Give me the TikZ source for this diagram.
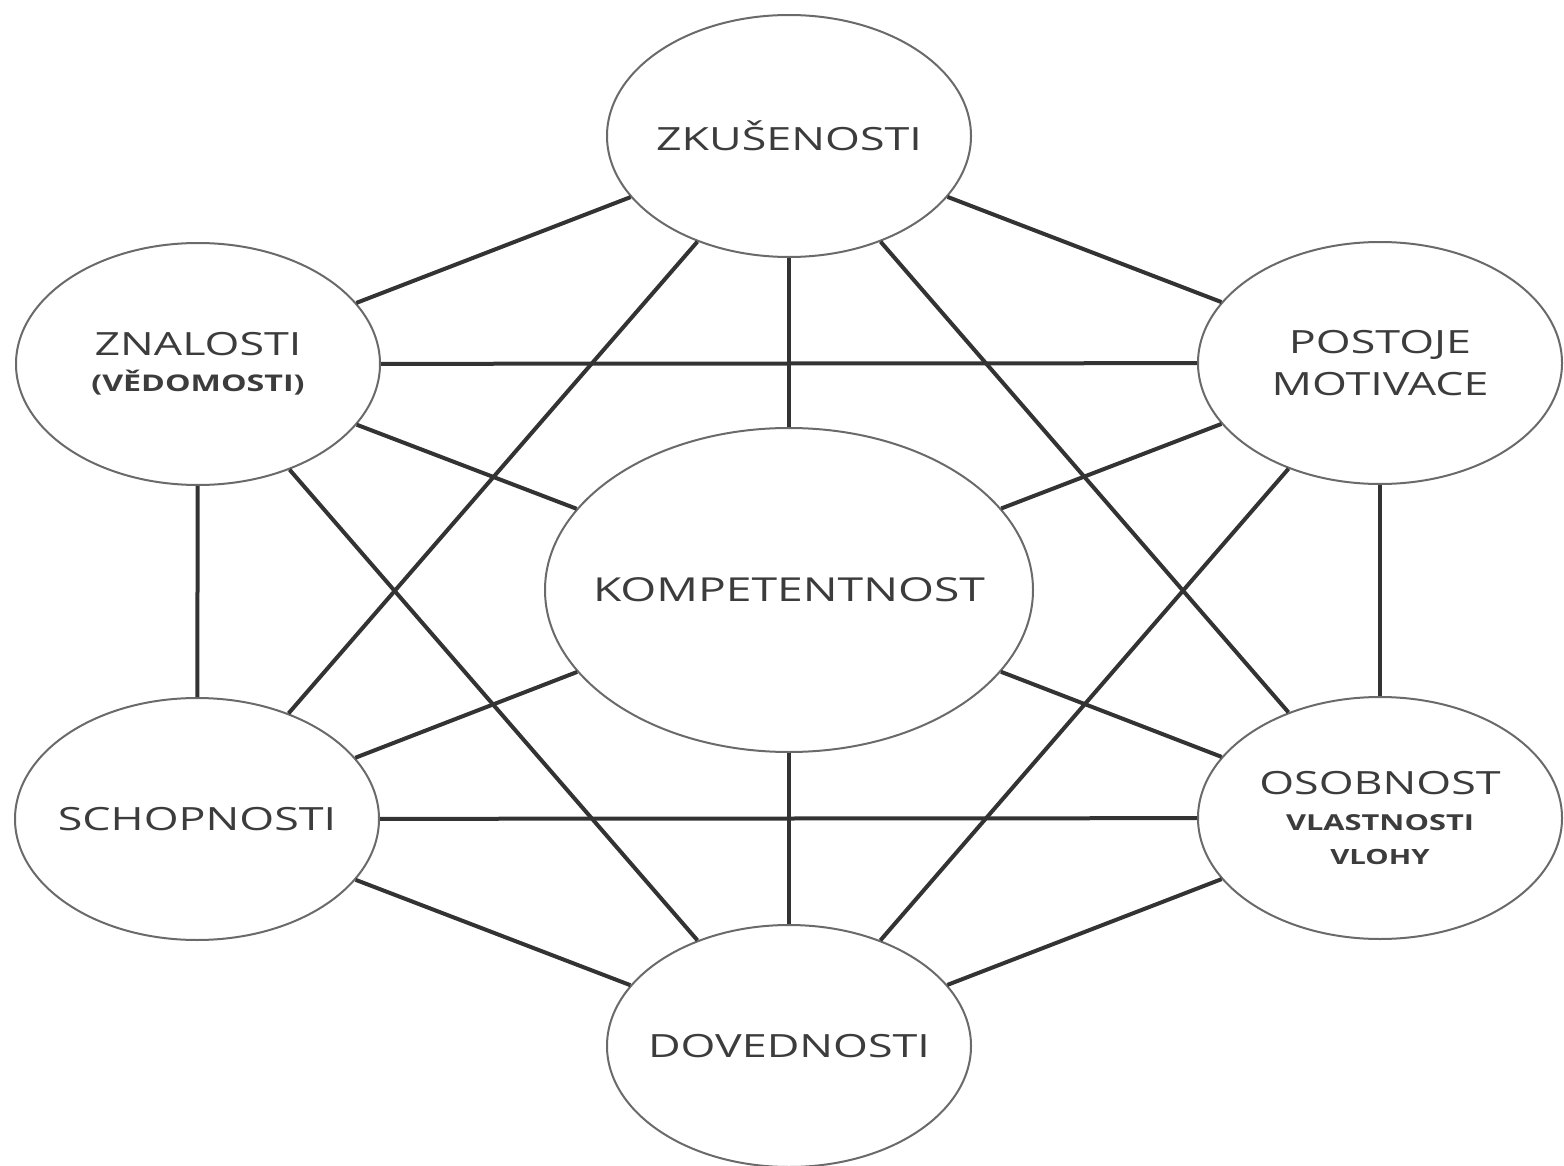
\documentclass[tikz,border=0pt]{standalone}
\usepackage{fontspec}
\setmainfont{Open Sans}[FakeStretch=1.4]
\usetikzlibrary{shapes.geometric}
\definecolor{txt}{HTML}{3C3C3C}
\definecolor{edge}{HTML}{333333}
\definecolor{rim}{HTML}{6A6A6A}
\tikzset{
  bubble/.style={ellipse, draw=rim, line width=1pt, fill=white,
    inner xsep=-120pt, inner ysep=-60pt,
    minimum width=182pt, minimum height=121pt, align=center, text=txt,
    font=\fontsize{16}{21}\selectfont},
  bigbubble/.style={bubble, minimum width=244pt, minimum height=162pt,
    font=\fontsize{16.5}{22}\selectfont},
  link/.style={draw=edge, line width=2pt}
}
\begin{document}
\begin{tikzpicture}[x=0.5pt,y=-0.5pt]
\useasboundingbox (0,0) rectangle (1564,1166);
\node[bubble] (zk) at (789,136) {ZKUŠENOSTI};
\node[bubble] (zn) at (198,364) {\fontsize{16}{21}\selectfont ZNALOSTI\\[-3pt]{\fontsize{11.5}{14}\selectfont\bfseries (VĚDOMOSTI)}};
\node[bubble] (po) at (1380,363) {POSTOJE\\MOTIVACE};
\node[bigbubble] (ko) at (789,590) {KOMPETENTNOST};
\node[bubble] (sc) at (197,819) {SCHOPNOSTI};
\node[bubble] (os) at (1380,818) {OSOBNOST\\[-3pt]{\fontsize{11}{14}\selectfont\bfseries VLASTNOSTI}\\[-4pt]{\fontsize{10.5}{14}\selectfont\bfseries VLOHY}};
\node[bubble] (dv) at (789,1046) {DOVEDNOSTI};
\draw[link] (zk) -- (zn);
\draw[link] (zk) -- (po);
\draw[link] (zk) -- (ko);
\draw[link] (zk) -- (sc);
\draw[link] (zk) -- (os);
\draw[link] (zn) -- (po);
\draw[link] (zn) -- (ko);
\draw[link] (zn) -- (sc);
\draw[link] (zn) -- (dv);
\draw[link] (po) -- (ko);
\draw[link] (po) -- (os);
\draw[link] (po) -- (dv);
\draw[link] (ko) -- (sc);
\draw[link] (ko) -- (os);
\draw[link] (ko) -- (dv);
\draw[link] (sc) -- (os);
\draw[link] (sc) -- (dv);
\draw[link] (os) -- (dv);
\end{tikzpicture}
\end{document}
